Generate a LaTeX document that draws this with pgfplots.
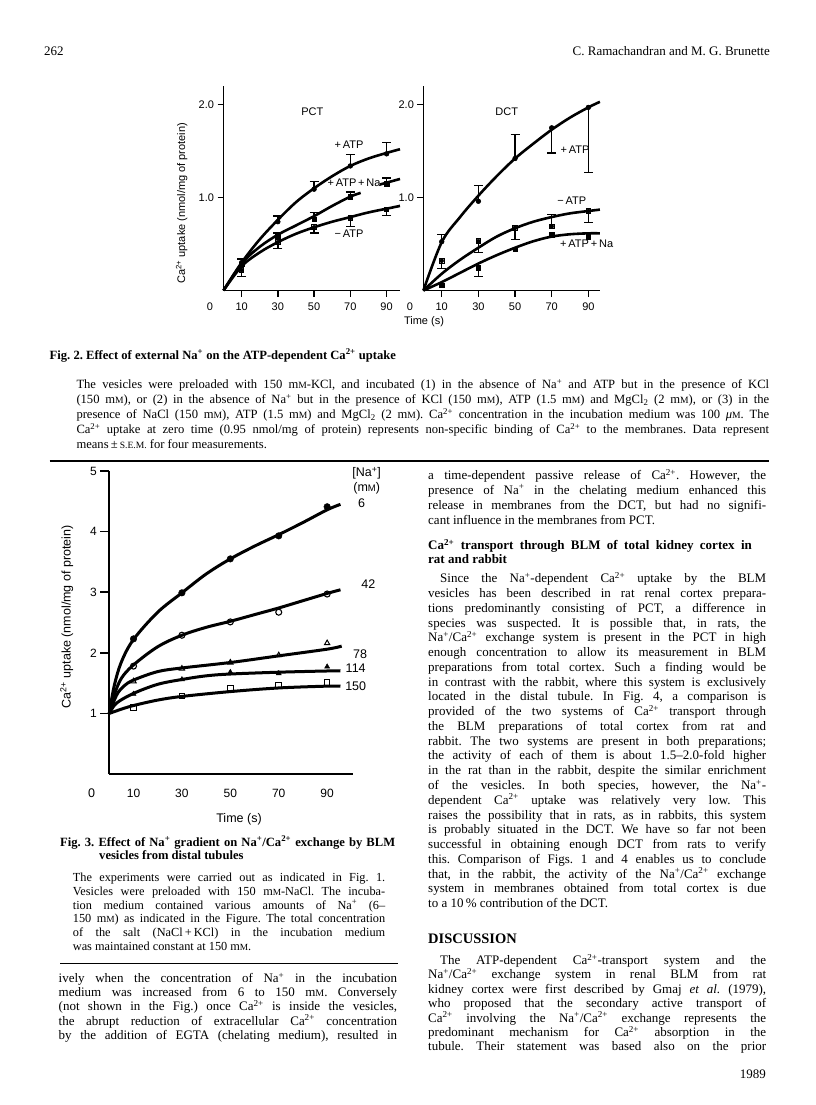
\documentclass[border=0pt]{standalone}
\usepackage{fontspec}
\setmainfont{Liberation Serif}
\newfontfamily\sans{Liberation Sans}
\usepackage{graphicx}
\usepackage{pgfplots}
\pgfplotsset{compat=1.18}

\newcommand\su[1]{\textsuperscript{#1}}
\newcommand\smc[1]{\scalebox{0.76}{#1}}
\newcommand\mM{m\smc{M}}
% justified line: x, y(baseline), width, text
\newcommand\J[4]{\node[anchor=base west,inner sep=0pt] at (#1,#2) {\makebox[#3pt][s]{#4}};}
% natural line
\newcommand\T[3]{\node[anchor=base west,inner sep=0pt] at (#1,#2) {#3};}

\pgfplotsset{
  panel/.style={scale only axis, axis lines*=left, xmin=0, ymin=0, clip=false,
    axis line style={line width=1.8pt}, tick style={line width=1.5pt, black},
    tick align=outside, major tick length=6pt,
    tick label style={font=\sans\fontsize{11}{11}\selectfont, /pgf/number format/assume math mode=true},
    xticklabel style={yshift=-3pt}},
  curve/.style={line width=2.6pt, smooth, tension=0.55, mark=none},
  ebp/.style={only marks, mark=none, error bars/y dir=plus, error bars/y explicit,
    error bars/error bar style={line width=1.3pt},
    error bars/error mark options={rotate=90, line width=1.3pt, mark size=4.5pt}},
  ebm/.style={only marks, mark=none, error bars/y dir=minus, error bars/y explicit,
    error bars/error bar style={line width=1.3pt},
    error bars/error mark options={rotate=90, line width=1.3pt, mark size=4.5pt}},
  fc/.style={only marks, mark=*, mark size=2.4pt},
  fs/.style={only marks, mark=square*, mark size=2.2pt},
  os/.style={only marks, mark=square, mark size=2.3pt, mark options={fill=white, line width=1pt}},
}

\begin{document}
\frenchspacing
\begin{tikzpicture}
\useasboundingbox (0,0) rectangle (816pt,-1105pt);
\fill[white] (0,0) rectangle (816pt,-1105pt);

% ---------------- Fig. 2, PCT
\begin{axis}[panel, at={(223.5pt,-290.5pt)}, anchor=south west,
  width=176.5pt, height=204.5pt, xmax=97.4, ymax=2.2,
  xtick={10,30,50,70,90}, ytick={1,2}, yticklabels={1.0,2.0}]
\addplot[curve] coordinates {(0,0) (10,0.30) (20,0.55) (30,0.76) (40,0.95) (50,1.10) (60,1.23) (70,1.34) (80,1.42) (90,1.48) (97.4,1.52)};
\addplot[curve] coordinates {(0,0) (10,0.29) (20,0.47) (30,0.60) (40,0.70) (50,0.80) (60,0.91) (70,1.01) (75.7,1.05)};
\addplot[curve] coordinates {(86.3,1.14) (90,1.16) (97.4,1.20)};
\addplot[curve] coordinates {(0,0) (10,0.26) (20,0.41) (30,0.52) (40,0.61) (50,0.68) (60,0.74) (70,0.79) (80,0.84) (90,0.88) (97.4,0.91)};
\addplot[ebp] coordinates {(10,0.30) +- (0,0.04) (30,0.74) +- (0,0.06) (50,1.09) +- (0,0.08) (70,1.34) +- (0,0.12) (90,1.47) +- (0,0.12)};
\addplot[ebp] coordinates {(30,0.58) +- (0,0.04) (50,0.77) +- (0,0.07) (70,1.01) +- (0,0.05) (90,1.15) +- (0,0.06)};
\addplot[ebm] coordinates {(10,0.22) +- (0,0.07) (30,0.52) +- (0,0.07) (50,0.68) +- (0,0.06) (70,0.78) +- (0,0.09) (90,0.87) +- (0,0.06)};
\addplot[fc] coordinates {(10,0.30) (30,0.74) (50,1.09) (70,1.34) (90,1.47)};
\addplot[fs] coordinates {(10,0.28) (30,0.58) (50,0.77) (70,1.01) (90,1.15)};
\addplot[os] coordinates {(10,0.22) (30,0.52) (50,0.68) (70,0.78) (90,0.87)};
\end{axis}

% ---------------- Fig. 2, DCT
\begin{axis}[panel, at={(423.4pt,-290.5pt)}, anchor=south west,
  width=176.5pt, height=204.5pt, xmax=96.3, ymax=2.2,
  xtick={10,30,50,70,90}, ytick={1,2}, yticklabels={1.0,2.0}]
\addplot[curve] coordinates {(0,0) (10,0.52) (20,0.79) (30,1.02) (40,1.23) (50,1.42) (60,1.58) (70,1.73) (80,1.86) (90,1.97) (96.3,2.03)};
\addplot[curve] coordinates {(0,0) (10,0.18) (20,0.33) (30,0.46) (40,0.58) (50,0.67) (60,0.74) (70,0.79) (80,0.83) (90,0.855) (96.3,0.87)};
\addplot[curve] coordinates {(0,0) (10,0.09) (20,0.19) (30,0.29) (40,0.38) (50,0.46) (60,0.53) (70,0.58) (80,0.605) (90,0.615) (96.3,0.615)};
\addplot[ebp] coordinates {(10,0.525) +- (0,0.075) (30,0.96) +- (0,0.17) (50,1.42) +- (0,0.26)};
\addplot[ebm] coordinates {(70,1.75) +- (0,0.27) (90,1.97) +- (0,0.70)};
\addplot[ebm] coordinates {(10,0.32) +- (0,0.08) (30,0.53) +- (0,0.12) (50,0.675) +- (0,0.125) (90,0.855) +- (0,0.125)};
\addplot[ebp] coordinates {(70,0.69) +- (0,0.13)};
\addplot[ebm] coordinates {(30,0.245) +- (0,0.095)};
\addplot[ebp] coordinates {(90,0.58) +- (0,0.045)};
\addplot[fc] coordinates {(10,0.525) (30,0.96) (50,1.42) (70,1.75) (90,1.97)};
\addplot[os] coordinates {(10,0.32) (30,0.53) (50,0.675) (70,0.69) (90,0.855)};
\addplot[fs] coordinates {(10,0.06) (30,0.245) (50,0.446) (70,0.60) (90,0.58)};
\end{axis}

% ---------------- Fig. 3
\begin{axis}[panel, at={(109.3pt,-774pt)}, anchor=south west,
  width=243.5pt, height=303pt, xmax=100.6, ymax=5,
  axis line style={line width=2.2pt}, major tick length=9pt,
  xtick={10,30,50,70,90}, ytick={1,2,3,4,5}, xtick style={draw=none},
  tick label style={font=\sans\fontsize{12}{12}\selectfont}]
\addplot[curve, line width=3pt] coordinates {(0,1) (2,1.45) (5,1.85) (10,2.22) (20,2.67) (30,2.99) (40,3.30) (50,3.55) (60,3.76) (70,3.95) (80,4.15) (90,4.36) (95.5,4.45)};
\addplot[curve, line width=3pt] coordinates {(0,1) (2,1.3) (5,1.58) (10,1.80) (20,2.10) (30,2.29) (40,2.42) (50,2.52) (60,2.63) (70,2.74) (80,2.86) (90,2.98) (95.5,3.04)};
\addplot[curve, line width=3pt] coordinates {(0,1) (3,1.3) (6,1.45) (10,1.55) (20,1.69) (30,1.75) (50,1.84) (70,1.95) (90,2.06) (96,2.11)};
\addplot[curve, line width=3pt] coordinates {(0,1) (3,1.17) (10,1.33) (20,1.48) (30,1.56) (40,1.62) (50,1.65) (70,1.68) (90,1.70) (95.5,1.70)};
\addplot[curve, line width=3pt] coordinates {(0,1) (5,1.07) (10,1.13) (20,1.22) (30,1.28) (50,1.36) (70,1.42) (90,1.45) (95.5,1.45)};
\addplot[only marks, mark=*, mark size=3.3pt] coordinates {(10,2.23) (30,2.99) (50,3.55) (70,3.93) (90,4.41)};
\addplot[only marks, mark=o, mark size=3pt, mark options={fill=white, line width=1.1pt}] coordinates {(10,1.78) (30,2.29) (50,2.51) (70,2.67) (90,2.97)};
\addplot[only marks, mark=triangle, mark size=3pt, mark options={fill=white, line width=1pt}] coordinates {(10,1.53) (30,1.74) (50,1.84) (70,1.96) (90,2.16)};
\addplot[only marks, mark=triangle*, mark size=3pt] coordinates {(10,1.32) (30,1.56) (50,1.68) (70,1.66) (90,1.77)};
\addplot[os, mark size=2.8pt] coordinates {(10,1.10) (30,1.29) (50,1.42) (70,1.47) (90,1.51)};
\end{axis}

\begin{scope}[x=1pt,y=-1pt]
% chart labels
\begin{scope}[font=\sans\fontsize{11}{11}\selectfont]
\node at (312.3,111.7) {PCT};
\node at (349,145) {+\,ATP};
\node at (354,183) {+\,ATP\,+\,Na};
\node at (349,234) {−\,ATP};
\node at (506.7,111.7) {DCT};
\node at (575,150) {+\,ATP};
\node at (571.7,201) {−\,ATP};
\node at (586.7,243.3) {+\,ATP\,+\,Na};
\node at (210,306.7) {0};
\node at (410,306.7) {0};
\node at (424,321.7) {Time (s)};
\node[rotate=90] at (181.7,203.3) {Ca\su{2+} uptake (nmol/mg of protein)};
\end{scope}
\begin{scope}[font=\sans\fontsize{12.5}{12.5}\selectfont]
\node at (366.7,473.5) {[Na\su{+}]};
\node at (366.7,488.3) {(m\smc{M})};
\node at (361.7,503.3) {6};
\node at (368.3,584) {42};
\node at (360,654) {78};
\node at (355.7,668.3) {114};
\node at (355.7,685.7) {150};
\node at (91.7,793.3) {0};
\node at (239,819.3) {Time (s)};
\node[rotate=90] at (66.7,616.7) {Ca\su{2+} uptake (nmol/mg of protein)};
\end{scope}

% header
\begin{scope}[font=\fontsize{13}{14}\selectfont]
\T{44}{56}{262}
\node[anchor=base east,inner sep=0pt] at (770,56) {C. Ramachandran and M. G. Brunette};
\end{scope}

% Fig. 2 caption
\begin{scope}[font=\fontsize{12.6}{14}\selectfont]
\T{49.5}{359}{\bfseries Fig. 2. Effect of external Na\su{+} on the ATP-dependent Ca\su{2+} uptake}
\J{76.3}{388.5}{692.7}{The vesicles were preloaded with 150 \mM-KCl, and incubated (1) in the absence of Na\su{+} and ATP but in the presence of KCl}
\J{76.3}{403.5}{692.7}{(150 \mM), or (2) in the absence of Na\su{+} but in the presence of KCl (150 \mM), ATP (1.5 \mM) and MgCl\textsubscript{2} (2 \mM), or (3) in the}
\J{76.3}{418.5}{692.7}{presence of NaCl (150 \mM), ATP (1.5 \mM) and MgCl\textsubscript{2} (2 \mM). Ca\su{2+} concentration in the incubation medium was 100 \textit{μ}\smc{M}. The}
\J{76.3}{433.5}{692.7}{Ca\su{2+} uptake at zero time (0.95 nmol/mg of protein) represents non-specific binding of Ca\su{2+} to the membranes. Data represent}
\T{76.3}{448.5}{means\,±\,\smc{S.E.M.} for four measurements.}
\end{scope}
\draw[line width=1.3pt] (49.5,461) -- (769,461);

% Fig. 3 caption
\begin{scope}[font=\fontsize{12.6}{14}\selectfont\bfseries]
\J{60}{846}{335}{Fig. 3. Effect of Na\su{+} gradient on Na\su{+}/Ca\su{2+} exchange by BLM}
\T{99}{859.5}{vesicles from distal tubules}
\end{scope}
\begin{scope}[font=\fontsize{12.3}{14}\selectfont]
\J{72.7}{881.8}{312.3}{The experiments were carried out as indicated in Fig. 1.}
\J{72.7}{895.5}{312.3}{Vesicles were preloaded with 150 \mM-NaCl. The incuba-}
\J{72.7}{909.2}{312.3}{tion medium contained various amounts of Na\su{+} (6--}
\J{72.7}{922.9}{312.3}{150 \mM) as indicated in the Figure. The total concentration}
\J{72.7}{936.6}{312.3}{of the salt (NaCl\,+\,KCl) in the incubation medium}
\T{72.7}{950.3}{was maintained constant at 150 \mM.}
\end{scope}
\draw[line width=1.3pt] (60,963.5) -- (398,963.5);

% body text
\begin{scope}[font=\fontsize{13}{14}\selectfont]
\J{58.5}{982.5}{338.5}{ively when the concentration of Na\su{+} in the incubation}
\J{58.5}{996.7}{338.5}{medium was increased from 6 to 150 \mM. Conversely}
\J{58.5}{1010.9}{338.5}{(not shown in the Fig.) once Ca\su{2+} is inside the vesicles,}
\J{58.5}{1025.1}{338.5}{the abrupt reduction of extracellular Ca\su{2+} concentration}
\J{58.5}{1039.3}{338.5}{by the addition of EGTA (chelating medium), resulted in}

\J{428}{479.5}{338}{a time-dependent passive release of Ca\su{2+}. However, the}
\J{428}{494.2}{338}{presence of Na\su{+} in the chelating medium enhanced this}
\J{428}{509.2}{338}{release in membranes from the DCT, but had no signifi-}
\T{428}{524.2}{cant influence in the membranes from PCT.}
\J{428}{549.5}{323.7}{\bfseries Ca\su{2+} transport through BLM of total kidney cortex in}
\T{428}{563.5}{\bfseries rat and rabbit}
\J{440}{582.8}{326}{Since the Na\su{+}-dependent Ca\su{2+} uptake by the BLM}
\J{428}{597.6}{338}{vesicles has been described in rat renal cortex prepara-}
\J{428}{612.3}{338}{tions predominantly consisting of PCT, a difference in}
\J{428}{627.1}{338}{species was suspected. It is possible that, in rats, the}
\J{428}{641.8}{338}{Na\su{+}/Ca\su{2+} exchange system is present in the PCT in high}
\J{428}{656.6}{338}{enough concentration to allow its measurement in BLM}
\J{428}{671.4}{338}{preparations from total cortex. Such a finding would be}
\J{428}{686.1}{338}{in contrast with the rabbit, where this system is exclusively}
\J{428}{700.9}{338}{located in the distal tubule. In Fig. 4, a comparison is}
\J{428}{715.6}{338}{provided of the two systems of Ca\su{2+} transport through}
\J{428}{730.4}{338}{the BLM preparations of total cortex from rat and}
\J{428}{745.2}{338}{rabbit. The two systems are present in both preparations;}
\J{428}{759.9}{338}{the activity of each of them is about 1.5--2.0-fold higher}
\J{428}{774.7}{338}{in the rat than in the rabbit, despite the similar enrichment}
\J{428}{789.4}{338}{of the vesicles. In both species, however, the Na\su{+}-}
\J{428}{804.2}{338}{dependent Ca\su{2+} uptake was relatively very low. This}
\J{428}{819.0}{338}{raises the possibility that in rats, as in rabbits, this system}
\J{428}{833.7}{338}{is probably situated in the DCT. We have so far not been}
\J{428}{848.5}{338}{successful in obtaining enough DCT from rats to verify}
\J{428}{863.2}{338}{this. Comparison of Figs. 1 and 4 enables us to conclude}
\J{428}{878.0}{338}{that, in the rabbit, the activity of the Na\su{+}/Ca\su{2+} exchange}
\J{428}{892.8}{338}{system in membranes obtained from total cortex is due}
\T{428}{907.5}{to a 10\,\% contribution of the DCT.}
\T{428}{943.5}{\fontsize{14.5}{15}\selectfont\bfseries DISCUSSION}
\J{440}{964.5}{326}{The ATP-dependent Ca\su{2+}-transport system and the}
\J{428}{978.9}{338}{Na\su{+}/Ca\su{2+} exchange system in renal BLM from rat}
\J{428}{993.3}{338}{kidney cortex were first described by Gmaj \textit{et al.} (1979),}
\J{428}{1007.7}{338}{who proposed that the secondary active transport of}
\J{428}{1022.1}{338}{Ca\su{2+} involving the Na\su{+}/Ca\su{2+} exchange represents the}
\J{428}{1036.5}{338}{predominant mechanism for Ca\su{2+} absorption in the}
\J{428}{1050.9}{338}{tubule. Their statement was based also on the prior}
\node[anchor=base east,inner sep=0pt] at (766,1078.5) {1989};
\end{scope}
\end{scope}
\end{tikzpicture}
\end{document}
